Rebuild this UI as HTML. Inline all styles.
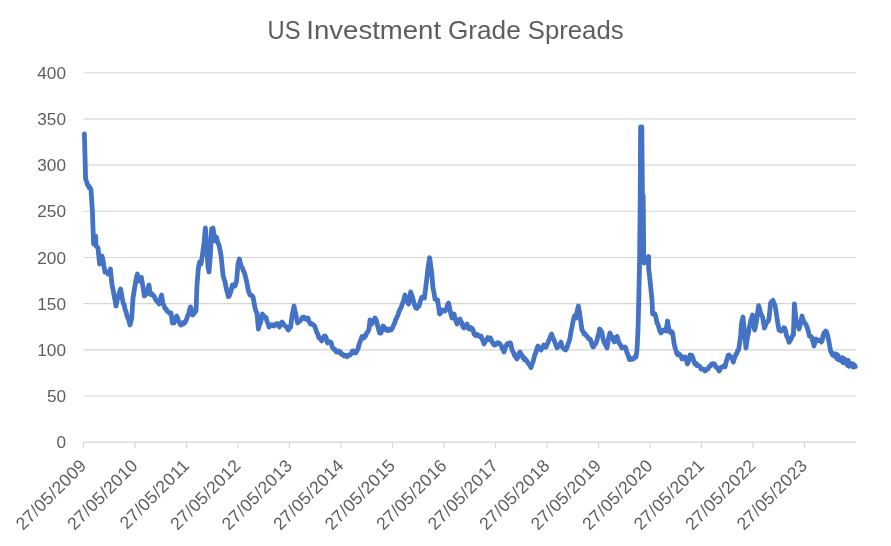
<!DOCTYPE html>
<html><head><meta charset="utf-8"><title>US Investment Grade Spreads</title>
<style>
html,body{margin:0;padding:0;background:#fff;}
body{width:891px;height:546px;overflow:hidden;position:relative;font-family:"Liberation Sans",sans-serif;}
svg text{font-family:"Liberation Sans",sans-serif;}
</style></head><body>
<svg width="891" height="546" viewBox="0 0 891 546" style="position:absolute;left:0;top:0;will-change:transform">
<rect width="891" height="546" fill="#fff"/>
<line x1="83.5" x2="856" y1="72.75" y2="72.75" stroke="#D6D6D6" stroke-width="1.15"/>
<line x1="83.5" x2="856" y1="118.93" y2="118.93" stroke="#D6D6D6" stroke-width="1.15"/>
<line x1="83.5" x2="856" y1="165.11" y2="165.11" stroke="#D6D6D6" stroke-width="1.15"/>
<line x1="83.5" x2="856" y1="211.29" y2="211.29" stroke="#D6D6D6" stroke-width="1.15"/>
<line x1="83.5" x2="856" y1="257.48" y2="257.48" stroke="#D6D6D6" stroke-width="1.15"/>
<line x1="83.5" x2="856" y1="303.66" y2="303.66" stroke="#D6D6D6" stroke-width="1.15"/>
<line x1="83.5" x2="856" y1="349.84" y2="349.84" stroke="#D6D6D6" stroke-width="1.15"/>
<line x1="83.5" x2="856" y1="396.02" y2="396.02" stroke="#D6D6D6" stroke-width="1.15"/>
<line x1="83.5" x2="856" y1="442.20" y2="442.20" stroke="#D6D6D6" stroke-width="1.3"/>
<line x1="83.50" x2="83.50" y1="442.20" y2="448.20" stroke="#D6D6D6" stroke-width="1.15"/>
<line x1="135.00" x2="135.00" y1="442.20" y2="448.20" stroke="#D6D6D6" stroke-width="1.15"/>
<line x1="186.50" x2="186.50" y1="442.20" y2="448.20" stroke="#D6D6D6" stroke-width="1.15"/>
<line x1="238.00" x2="238.00" y1="442.20" y2="448.20" stroke="#D6D6D6" stroke-width="1.15"/>
<line x1="289.50" x2="289.50" y1="442.20" y2="448.20" stroke="#D6D6D6" stroke-width="1.15"/>
<line x1="341.00" x2="341.00" y1="442.20" y2="448.20" stroke="#D6D6D6" stroke-width="1.15"/>
<line x1="392.50" x2="392.50" y1="442.20" y2="448.20" stroke="#D6D6D6" stroke-width="1.15"/>
<line x1="444.00" x2="444.00" y1="442.20" y2="448.20" stroke="#D6D6D6" stroke-width="1.15"/>
<line x1="495.50" x2="495.50" y1="442.20" y2="448.20" stroke="#D6D6D6" stroke-width="1.15"/>
<line x1="547.00" x2="547.00" y1="442.20" y2="448.20" stroke="#D6D6D6" stroke-width="1.15"/>
<line x1="598.50" x2="598.50" y1="442.20" y2="448.20" stroke="#D6D6D6" stroke-width="1.15"/>
<line x1="650.00" x2="650.00" y1="442.20" y2="448.20" stroke="#D6D6D6" stroke-width="1.15"/>
<line x1="701.50" x2="701.50" y1="442.20" y2="448.20" stroke="#D6D6D6" stroke-width="1.15"/>
<line x1="753.00" x2="753.00" y1="442.20" y2="448.20" stroke="#D6D6D6" stroke-width="1.15"/>
<line x1="804.50" x2="804.50" y1="442.20" y2="448.20" stroke="#D6D6D6" stroke-width="1.15"/>
<text x="66" y="78.85" text-anchor="end" font-size="17.2" fill="#5E5E5E">400</text>
<text x="66" y="125.03" text-anchor="end" font-size="17.2" fill="#5E5E5E">350</text>
<text x="66" y="171.21" text-anchor="end" font-size="17.2" fill="#5E5E5E">300</text>
<text x="66" y="217.39" text-anchor="end" font-size="17.2" fill="#5E5E5E">250</text>
<text x="66" y="263.58" text-anchor="end" font-size="17.2" fill="#5E5E5E">200</text>
<text x="66" y="309.76" text-anchor="end" font-size="17.2" fill="#5E5E5E">150</text>
<text x="66" y="355.94" text-anchor="end" font-size="17.2" fill="#5E5E5E">100</text>
<text x="66" y="402.12" text-anchor="end" font-size="17.2" fill="#5E5E5E">50</text>
<text x="66" y="448.30" text-anchor="end" font-size="17.2" fill="#5E5E5E">0</text>
<text transform="translate(87.50,466.50) rotate(-45)" text-anchor="end" font-size="17.6" letter-spacing="0.32" fill="#5E5E5E">27/05/2009</text>
<text transform="translate(139.00,466.50) rotate(-45)" text-anchor="end" font-size="17.6" letter-spacing="0.32" fill="#5E5E5E">27/05/2010</text>
<text transform="translate(190.50,466.50) rotate(-45)" text-anchor="end" font-size="17.6" letter-spacing="0.32" fill="#5E5E5E">27/05/2011</text>
<text transform="translate(242.00,466.50) rotate(-45)" text-anchor="end" font-size="17.6" letter-spacing="0.32" fill="#5E5E5E">27/05/2012</text>
<text transform="translate(293.50,466.50) rotate(-45)" text-anchor="end" font-size="17.6" letter-spacing="0.32" fill="#5E5E5E">27/05/2013</text>
<text transform="translate(345.00,466.50) rotate(-45)" text-anchor="end" font-size="17.6" letter-spacing="0.32" fill="#5E5E5E">27/05/2014</text>
<text transform="translate(396.50,466.50) rotate(-45)" text-anchor="end" font-size="17.6" letter-spacing="0.32" fill="#5E5E5E">27/05/2015</text>
<text transform="translate(448.00,466.50) rotate(-45)" text-anchor="end" font-size="17.6" letter-spacing="0.32" fill="#5E5E5E">27/05/2016</text>
<text transform="translate(499.50,466.50) rotate(-45)" text-anchor="end" font-size="17.6" letter-spacing="0.32" fill="#5E5E5E">27/05/2017</text>
<text transform="translate(551.00,466.50) rotate(-45)" text-anchor="end" font-size="17.6" letter-spacing="0.32" fill="#5E5E5E">27/05/2018</text>
<text transform="translate(602.50,466.50) rotate(-45)" text-anchor="end" font-size="17.6" letter-spacing="0.32" fill="#5E5E5E">27/05/2019</text>
<text transform="translate(654.00,466.50) rotate(-45)" text-anchor="end" font-size="17.6" letter-spacing="0.32" fill="#5E5E5E">27/05/2020</text>
<text transform="translate(705.50,466.50) rotate(-45)" text-anchor="end" font-size="17.6" letter-spacing="0.32" fill="#5E5E5E">27/05/2021</text>
<text transform="translate(757.00,466.50) rotate(-45)" text-anchor="end" font-size="17.6" letter-spacing="0.32" fill="#5E5E5E">27/05/2022</text>
<text transform="translate(808.50,466.50) rotate(-45)" text-anchor="end" font-size="17.6" letter-spacing="0.32" fill="#5E5E5E">27/05/2023</text>
<text x="267.6" y="38.6" font-size="25.2" fill="#5E5E5E" textLength="33.0" lengthAdjust="spacingAndGlyphs">US</text>
<text x="306.3" y="38.6" font-size="25.2" fill="#5E5E5E" textLength="134.8" lengthAdjust="spacingAndGlyphs">Investment</text>
<text x="447.9" y="38.6" font-size="25.2" fill="#5E5E5E" textLength="72.9" lengthAdjust="spacingAndGlyphs">Grade</text>
<text x="527.8" y="38.6" font-size="25.2" fill="#5E5E5E" textLength="95.8" lengthAdjust="spacingAndGlyphs">Spreads</text>
<path d="M84.4,134.0 L85.6,179.0 L86.6,181.6 L87.6,185.0 L88.4,185.4 L89.3,187.9 L90.2,187.7 L91.0,190.0 L92.4,211.0 L93.0,228.0 L93.6,244.0 L94.6,240.1 L95.6,236.0 L96.0,246.0 L97.0,246.7 L98.0,248.0 L99.6,264.0 L100.4,260.3 L101.2,258.7 L102.0,256.0 L103.0,260.2 L104.0,266.5 L105.0,272.0 L106.0,271.6 L107.0,272.4 L108.0,274.0 L108.8,272.2 L109.6,271.5 L110.4,269.0 L112.0,285.0 L113.0,289.1 L114.0,295.0 L115.0,299.8 L116.0,306.0 L117.0,301.3 L118.0,296.0 L118.9,294.7 L119.7,291.5 L120.6,289.0 L121.5,293.8 L122.4,299.0 L123.3,303.5 L124.2,304.7 L125.2,310.1 L126.1,312.1 L127.0,316.0 L128.0,318.1 L129.0,321.1 L130.0,325.0 L131.6,319.0 L133.0,298.0 L133.9,292.7 L134.7,287.3 L135.6,282.0 L136.5,277.5 L137.4,274.0 L139.0,281.0 L139.8,280.6 L140.6,277.8 L141.4,277.4 L142.5,284.2 L143.6,291.0 L144.4,296.0 L145.3,295.2 L146.1,294.3 L147.0,293.0 L148.0,288.7 L149.0,285.0 L150.0,294.0 L151.0,294.6 L152.0,293.9 L153.0,295.4 L153.9,295.7 L154.7,297.4 L155.6,299.4 L156.4,301.0 L157.3,301.5 L158.2,302.4 L159.0,304.0 L159.9,301.2 L160.7,297.9 L161.6,295.0 L163.0,304.0 L163.8,304.9 L164.6,307.5 L165.4,308.7 L166.2,309.0 L167.0,311.0 L167.8,311.6 L168.6,311.9 L169.4,313.1 L170.2,313.2 L171.0,313.0 L172.4,323.0 L173.3,321.8 L174.1,322.8 L175.0,321.0 L176.6,316.0 L177.5,317.6 L178.4,321.0 L179.3,322.1 L180.1,324.3 L181.0,325.0 L181.8,323.7 L182.6,324.0 L183.4,322.5 L184.2,323.5 L185.0,322.6 L186.0,320.7 L187.0,317.7 L188.0,315.0 L188.9,313.2 L189.7,309.2 L190.6,307.0 L191.6,311.5 L192.6,315.0 L193.4,314.2 L194.3,313.2 L195.2,311.9 L196.0,311.0 L197.0,285.0 L198.4,268.0 L199.6,262.0 L201.0,264.0 L202.4,255.0 L204.0,243.0 L205.4,228.0 L206.4,241.0 L208.0,267.0 L209.0,272.0 L210.4,255.0 L211.6,229.0 L213.0,228.0 L214.0,234.5 L215.0,241.0 L216.4,237.0 L217.3,240.5 L218.1,243.4 L219.0,245.0 L220.0,249.9 L221.0,255.0 L222.0,265.0 L223.0,275.0 L223.9,278.7 L224.7,280.6 L225.6,285.0 L226.5,289.4 L227.5,293.1 L228.4,296.6 L229.3,295.9 L230.1,293.6 L231.0,291.0 L232.4,285.0 L233.3,284.8 L234.1,285.4 L235.0,286.0 L236.6,281.0 L238.0,264.0 L239.4,259.0 L240.5,263.4 L241.6,267.0 L242.4,267.9 L243.3,270.9 L244.2,272.2 L245.0,275.0 L246.0,278.7 L247.0,283.3 L248.0,289.0 L249.0,292.6 L250.0,295.0 L251.0,294.8 L252.0,295.7 L253.0,297.0 L254.0,302.2 L255.0,308.0 L256.0,311.4 L257.0,313.0 L258.4,329.0 L259.4,325.0 L260.4,323.0 L261.4,318.4 L262.4,314.0 L263.3,315.0 L264.2,316.6 L265.1,317.3 L266.0,317.4 L267.0,321.5 L268.0,323.3 L269.0,327.0 L270.0,326.0 L271.0,325.1 L272.0,324.6 L273.0,325.7 L274.0,326.0 L275.0,325.0 L276.0,323.8 L277.0,323.6 L278.0,324.0 L279.4,327.0 L280.3,324.7 L281.1,323.0 L282.0,322.0 L283.0,323.3 L284.0,324.9 L285.0,326.0 L285.9,326.4 L286.7,326.8 L287.5,328.8 L288.4,330.0 L289.5,328.2 L290.6,327.0 L292.0,316.0 L293.0,311.2 L294.0,306.0 L294.8,310.6 L295.6,313.0 L296.6,318.5 L297.6,323.0 L298.8,322.0 L300.0,321.0 L301.2,319.5 L302.4,317.4 L303.3,318.2 L304.1,317.1 L305.0,318.6 L306.0,319.4 L307.0,318.9 L308.0,318.0 L309.0,321.4 L310.0,323.0 L310.9,324.2 L311.8,323.7 L312.7,324.3 L313.6,325.0 L314.8,326.5 L316.0,330.0 L317.0,333.0 L318.0,334.3 L319.0,338.0 L319.9,338.0 L320.7,339.3 L321.6,341.0 L322.5,338.9 L323.3,338.1 L324.1,336.2 L325.0,336.0 L325.9,337.1 L326.7,339.8 L327.6,343.0 L328.5,341.7 L329.5,342.0 L330.4,342.0 L331.3,342.9 L332.1,346.9 L333.0,348.0 L333.9,349.3 L334.7,349.2 L335.5,350.4 L336.4,352.0 L337.2,351.6 L338.0,351.7 L338.8,351.1 L339.6,352.8 L340.4,352.0 L341.3,354.2 L342.2,353.9 L343.1,355.0 L344.0,356.0 L345.0,355.2 L346.0,355.4 L347.0,356.6 L348.0,355.7 L349.0,355.0 L350.0,355.0 L351.2,353.8 L352.4,351.0 L353.3,350.9 L354.1,351.2 L355.0,353.0 L356.0,352.7 L357.0,350.4 L358.0,349.0 L359.0,344.7 L360.0,342.0 L361.0,339.4 L362.0,336.6 L363.0,336.2 L364.0,338.0 L364.9,336.4 L365.7,335.8 L366.6,333.0 L367.8,331.9 L369.0,329.0 L370.0,320.0 L371.0,322.5 L372.0,324.0 L373.0,321.4 L374.0,319.7 L375.0,318.0 L376.0,319.7 L377.0,323.0 L377.9,327.0 L378.7,329.7 L379.6,333.0 L381.0,333.0 L382.0,330.2 L383.0,326.0 L384.0,326.9 L385.0,328.0 L386.0,330.0 L387.0,330.4 L388.0,330.5 L389.0,329.0 L390.0,330.3 L391.0,330.0 L392.0,328.7 L393.0,326.8 L394.0,324.0 L394.8,322.8 L395.6,319.7 L396.4,318.6 L397.2,316.5 L398.0,315.0 L399.0,311.5 L400.0,309.2 L401.0,308.0 L401.9,305.1 L402.7,302.8 L403.6,301.0 L405.0,295.0 L406.4,300.0 L407.5,302.5 L408.6,304.0 L409.6,299.1 L410.6,292.0 L411.8,295.4 L413.0,299.0 L414.0,303.0 L415.0,306.2 L416.0,308.0 L417.0,308.4 L418.0,306.3 L419.0,306.0 L420.0,302.3 L421.0,299.3 L422.0,297.0 L423.2,296.8 L424.4,298.0 L425.4,290.0 L426.4,282.0 L427.2,275.0 L428.0,268.0 L428.8,262.8 L429.6,257.6 L430.6,264.8 L431.6,272.0 L433.0,288.0 L434.0,292.8 L435.0,299.0 L435.9,299.6 L436.7,300.6 L437.6,300.0 L438.6,307.0 L439.6,314.0 L440.8,312.8 L442.0,310.0 L443.0,310.3 L444.0,311.0 L445.0,311.0 L446.0,309.7 L447.0,307.0 L447.8,304.0 L448.6,303.0 L450.0,310.0 L451.0,314.4 L452.0,318.0 L453.0,317.0 L454.0,314.0 L455.0,318.0 L456.0,321.3 L457.0,324.0 L458.0,322.3 L459.0,319.9 L460.0,319.0 L460.8,321.5 L461.6,322.2 L462.4,325.1 L463.2,327.3 L464.0,328.0 L465.0,326.4 L466.0,325.1 L467.0,324.0 L468.0,327.6 L469.0,329.0 L469.9,329.2 L470.7,327.5 L471.6,328.0 L472.5,328.9 L473.3,330.7 L474.1,334.2 L475.0,335.0 L476.0,335.7 L477.0,334.2 L478.0,335.0 L479.0,336.1 L480.0,336.8 L481.0,336.0 L482.0,339.0 L483.0,341.0 L484.0,344.0 L485.0,342.5 L486.0,339.8 L487.0,339.0 L487.9,337.6 L488.7,339.6 L489.5,338.6 L490.4,338.0 L491.3,339.8 L492.2,342.5 L493.1,343.1 L494.0,345.0 L495.0,345.2 L496.0,344.4 L497.0,343.0 L498.0,342.6 L499.0,343.1 L500.0,344.0 L500.8,345.1 L501.6,346.6 L502.4,349.0 L503.2,349.8 L504.0,352.0 L505.0,349.1 L506.0,345.8 L507.0,344.0 L507.9,344.7 L508.7,343.1 L509.5,343.1 L510.4,343.0 L511.3,346.2 L512.1,350.0 L513.0,352.0 L513.8,353.2 L514.6,355.8 L515.4,356.2 L516.2,357.7 L517.0,359.0 L518.0,356.7 L519.0,353.2 L520.0,352.0 L521.0,353.9 L522.0,355.2 L523.0,358.0 L523.8,357.4 L524.6,359.9 L525.4,359.0 L526.2,360.3 L527.0,361.0 L527.8,362.9 L528.6,363.8 L529.4,364.5 L530.2,366.3 L531.0,367.6 L532.0,364.5 L533.0,361.9 L534.0,358.0 L534.8,354.7 L535.6,353.3 L536.4,350.2 L537.2,347.9 L538.0,346.0 L539.0,348.0 L540.0,348.7 L541.0,350.0 L541.9,348.5 L542.7,347.3 L543.6,345.0 L544.8,347.0 L546.0,347.0 L547.0,344.5 L548.0,342.6 L549.0,340.0 L549.9,338.0 L550.7,336.0 L551.6,334.0 L552.8,337.5 L554.0,340.0 L555.0,342.6 L556.0,345.4 L557.0,348.0 L557.8,346.7 L558.6,346.7 L559.4,344.9 L560.2,344.1 L561.0,342.0 L562.0,346.1 L563.0,348.0 L563.9,348.1 L564.7,349.5 L565.6,350.0 L566.8,348.1 L568.0,344.0 L569.0,341.8 L570.0,338.0 L571.0,331.6 L572.0,327.0 L573.2,320.6 L574.4,316.0 L575.2,316.9 L576.0,318.0 L577.2,311.0 L578.4,306.0 L579.2,311.0 L580.0,316.0 L581.0,323.0 L582.0,330.0 L583.0,331.4 L584.0,334.0 L585.0,333.6 L586.0,335.7 L587.0,336.0 L588.0,337.7 L589.0,339.0 L590.0,339.0 L591.0,340.8 L592.0,344.9 L593.0,347.0 L593.9,346.4 L594.7,344.1 L595.6,344.0 L596.8,340.9 L598.0,336.0 L598.8,333.6 L599.6,329.0 L600.8,330.3 L602.0,333.0 L603.0,338.6 L604.0,342.0 L605.0,343.8 L606.0,346.0 L607.0,348.0 L607.8,343.0 L608.6,338.0 L610.0,333.0 L611.2,336.2 L612.4,337.0 L613.4,340.3 L614.4,342.0 L615.3,339.3 L616.1,338.1 L617.0,336.4 L618.0,339.7 L619.0,343.0 L620.0,344.3 L621.0,345.6 L622.0,348.0 L623.0,347.2 L624.0,347.9 L625.0,347.0 L625.9,348.2 L626.7,351.8 L627.6,354.0 L628.6,356.7 L629.6,359.6 L630.5,358.3 L631.3,358.9 L632.1,359.4 L633.0,359.0 L634.0,358.4 L635.0,356.6 L636.0,357.0 L637.0,350.0 L638.0,330.0 L639.0,290.0 L639.6,260.0 L640.2,200.0 L640.6,127.0 L641.8,127.0 L642.4,194.0 L643.2,196.0 L643.7,256.0 L644.2,263.0 L645.1,261.7 L646.0,258.0 L646.9,258.2 L647.7,258.1 L648.6,256.5 L648.6,268.0 L650.0,280.0 L651.0,290.0 L652.0,300.0 L652.6,314.0 L653.8,313.1 L655.0,314.0 L656.0,317.9 L657.0,323.0 L658.0,324.4 L659.0,328.0 L660.0,331.2 L661.0,333.0 L662.0,331.4 L663.0,330.1 L664.0,330.0 L665.0,330.3 L666.0,331.0 L666.8,326.0 L667.6,321.0 L668.5,327.0 L669.4,331.0 L670.2,332.3 L671.0,331.4 L671.8,331.7 L672.6,333.0 L674.0,343.0 L675.0,347.7 L676.0,350.5 L677.0,354.0 L678.0,354.8 L679.0,353.7 L680.0,355.0 L681.0,355.9 L682.0,359.0 L683.0,358.8 L684.0,357.5 L685.0,357.0 L686.2,359.5 L687.4,364.0 L688.3,362.1 L689.1,358.3 L690.0,355.0 L690.9,356.4 L691.7,355.3 L692.6,357.0 L693.8,361.4 L695.0,364.0 L696.0,363.3 L697.0,365.5 L698.0,365.0 L698.8,365.7 L699.6,366.2 L700.4,367.5 L701.2,369.2 L702.0,369.0 L703.0,369.1 L704.0,369.4 L705.0,371.0 L706.0,370.4 L707.0,369.0 L708.0,369.0 L708.9,367.1 L709.7,366.2 L710.6,366.0 L711.5,364.1 L712.5,363.7 L713.4,363.6 L714.2,364.0 L715.0,364.8 L715.8,366.8 L716.6,367.0 L717.8,368.5 L719.0,371.0 L720.0,369.7 L721.0,367.6 L722.0,367.0 L723.0,366.6 L724.0,365.8 L725.0,367.0 L726.2,361.9 L727.4,358.0 L728.2,355.3 L729.0,355.0 L730.2,356.6 L731.4,357.0 L732.4,359.6 L733.4,362.0 L734.3,358.6 L735.1,356.6 L736.0,354.0 L736.9,353.7 L737.7,350.4 L738.6,350.0 L739.6,343.0 L740.6,336.0 L741.6,323.0 L743.0,317.0 L743.8,325.5 L744.6,334.0 L746.0,348.0 L747.4,338.0 L748.2,334.3 L749.0,329.0 L750.0,324.3 L751.0,320.0 L751.8,317.5 L752.6,315.0 L753.6,322.5 L754.6,330.0 L755.6,325.8 L756.6,320.0 L757.6,312.8 L758.6,305.6 L759.6,309.0 L760.6,313.0 L761.6,315.0 L762.6,317.0 L763.5,322.5 L764.4,328.0 L765.5,325.5 L766.6,322.0 L767.8,321.7 L769.0,319.0 L769.8,311.0 L770.6,303.0 L771.8,301.3 L773.0,300.4 L774.0,303.5 L775.0,305.0 L776.0,311.5 L777.0,318.0 L778.0,324.5 L779.0,330.0 L780.2,330.8 L781.4,331.0 L782.2,330.0 L783.0,329.1 L783.8,327.7 L784.6,328.0 L785.6,331.1 L786.6,336.0 L787.8,338.2 L789.0,342.4 L790.2,340.8 L791.4,338.0 L792.4,335.9 L793.4,335.0 L794.4,304.0 L795.2,312.0 L796.0,320.0 L797.0,322.2 L798.0,325.0 L799.0,329.0 L800.0,325.5 L801.0,321.2 L802.0,316.0 L803.0,319.4 L804.0,322.0 L805.0,323.1 L806.0,324.7 L807.0,327.0 L808.2,331.0 L809.4,336.0 L810.3,336.6 L811.1,336.5 L812.0,338.0 L813.0,341.9 L814.0,346.0 L815.0,341.9 L816.0,339.0 L816.9,340.4 L817.7,340.8 L818.6,340.0 L819.5,340.8 L820.5,340.7 L821.4,342.0 L822.3,340.1 L823.1,335.5 L824.0,333.0 L824.9,332.3 L825.7,331.1 L826.6,332.0 L827.6,335.7 L828.6,340.0 L829.6,345.4 L830.6,351.0 L831.6,353.0 L832.6,355.0 L833.5,353.5 L834.4,356.3 L835.3,355.0 L836.1,354.1 L836.9,358.7 L837.8,355.0 L838.6,359.8 L839.4,358.5 L840.3,358.0 L841.2,360.8 L842.1,357.6 L843.0,362.7 L843.9,358.5 L844.8,361.3 L845.7,363.1 L846.5,360.3 L847.4,365.4 L848.3,360.4 L849.2,366.3 L850.0,363.0 L850.9,364.8 L851.8,366.1 L852.7,363.8 L853.5,367.1 L854.4,365.0 L855.3,366.6" fill="none" stroke="#4472C4" stroke-width="4.8" stroke-linejoin="round" stroke-linecap="round"/>
</svg>
</body></html>
